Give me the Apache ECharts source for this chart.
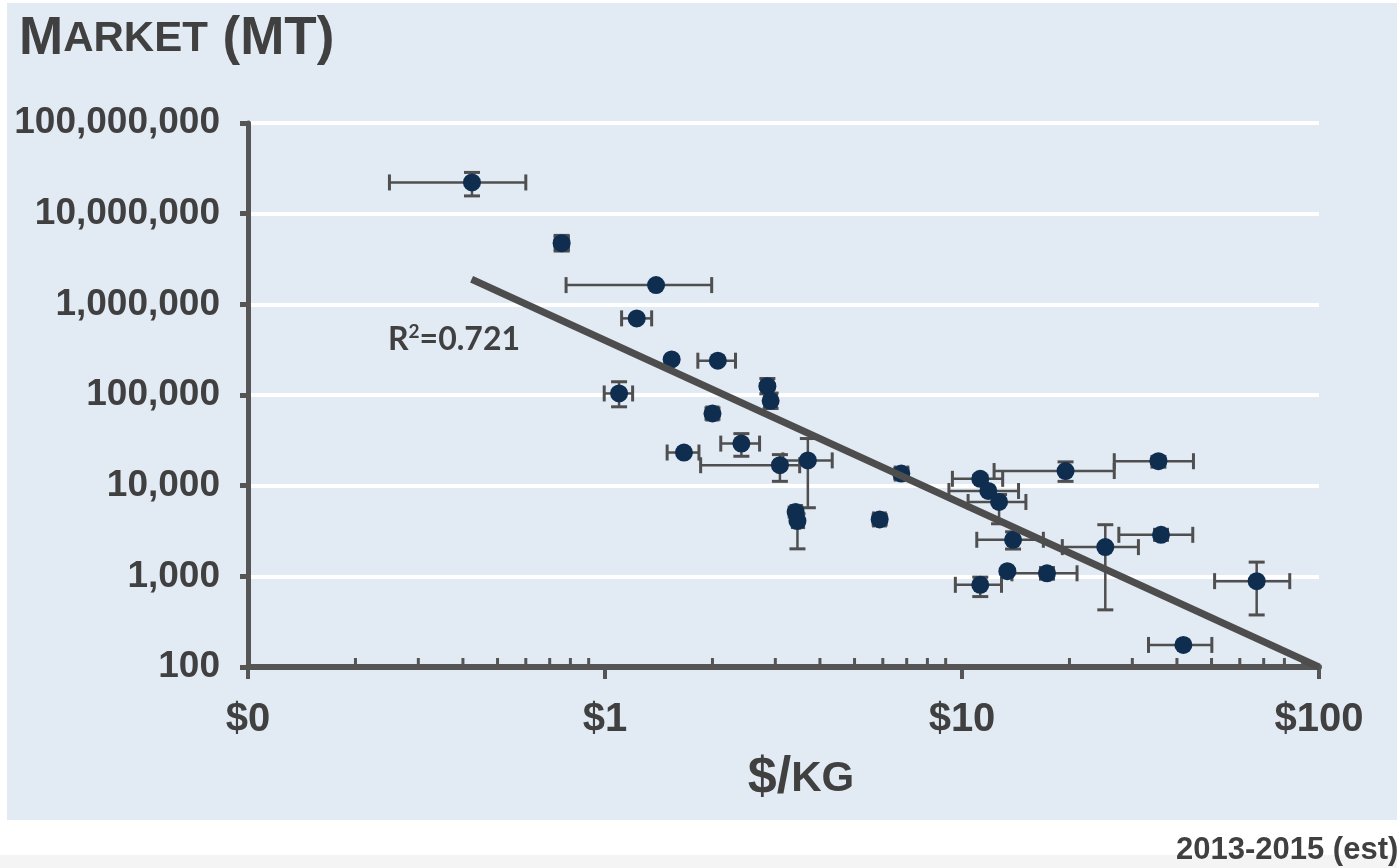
<!DOCTYPE html>
<html>
<head>
<meta charset="utf-8">
<script src="https://cdn.jsdelivr.net/npm/echarts@6/dist/echarts.min.js"></script>
<style>
  html, body { margin: 0; padding: 0; background: #fff; }
  #chart { width: 1397px; height: 868px; }
</style>
</head>
<body>
<div id="chart"></div>
<script>
// price ($/kg) per product, with low/high range
const priceUSD  = [0.424, 0.756, 1.39, 1.227, 1.537, 2.07, 1.095, 2.85, 2.91, 2.00, 2.41, 1.664, 3.09, 3.70, 3.42, 3.46, 5.88, 6.76, 11.25, 11.85, 12.7, 19.5, 35.5, 13.9, 25.2, 36.1, 13.4, 17.3, 11.25, 66.9, 41.7];
const priceLow  = [0.249, 0.725, 0.778, 1.113, 1.537, 1.82, 0.995, 2.75, 2.80, 1.93, 2.11, 1.493, 1.853, 3.15, 3.32, 3.35, 5.65, 6.50, 9.40, 9.19, 10.4, 12.3, 26.7, 11.0, 19.1, 27.5, 13.4, 13.8, 9.58, 51.0, 33.3];
const priceHigh = [0.600, 0.790, 1.99, 1.351, 1.537, 2.32, 1.195, 2.95, 3.02, 2.07, 2.71, 1.833, 3.51, 4.33, 3.55, 3.60, 6.10, 7.05, 13.0, 14.4, 15.1, 26.7, 44.5, 16.9, 31.2, 44.3, 13.4, 21.0, 12.9, 82.8, 50.1];
// market size (metric tonnes), with low/high range
const marketMT   = [2.21e7, 4.72e6, 1.63e6, 7.0e5, 2.47e5, 2.39e5, 1.04e5, 1.25e5, 8.63e4, 6.25e4, 2.91e4, 2.32e4, 1.68e4, 1.90e4, 5120, 4070, 4240, 13600, 11900, 8740, 6610, 14500, 18600, 2530, 2100, 2870, 1140, 1080, 806, 885, 175];
const marketLow  = [1.57e7, 3.87e6, 1.63e6, 7.0e5, 2.47e5, 2.39e5, 7.41e4, 1.03e5, 7.1e4, 5.4e4, 2.11e4, 2.32e4, 1.116e4, 5710, 4500, 2010, 3700, 12000, 11000, 8740, 3800, 11150, 16000, 2000, 427, 2500, 1140, 930, 598, 375, 175];
const marketHigh = [2.85e7, 5.76e6, 1.63e6, 7.0e5, 2.47e5, 2.39e5, 1.40e5, 1.52e5, 1.05e5, 7.2e4, 3.75e4, 2.32e4, 2.20e4, 3.31e4, 5800, 4900, 4800, 15500, 13000, 8740, 8000, 18300, 21000, 3100, 3710, 3300, 1140, 1250, 980, 1435, 175];
// fitted power-law trend endpoints
const trendPrice  = [0.423, 100];
const trendMarket = [1.89e6, 100];
// log minor ticks on the price axis
const minorTickValues = [0.2, 0.3, 0.4, 0.5, 0.6, 0.7, 0.8, 0.9, 2, 3, 4, 5, 6, 7, 8, 9, 20, 30, 40, 50, 60, 70, 80, 90];
const xTickLabels = { 0.1: '$0', 1: '$1', 10: '$10', 100: '$100' };

const FONT = '"Liberation Sans", Arial, sans-serif';
const TEXT = '#404040';
const AXIS = '#555555';

const chart = echarts.init(document.getElementById('chart'));

const errorData = priceUSD.map((p, i) => [p, marketMT[i], priceLow[i], priceHigh[i], marketLow[i], marketHigh[i]]);

// draw x/y error bars with caps
const renderErrorBar = (params, api) => {
    const c = api.coord([api.value(0), api.value(1)]);
    const xl = api.coord([api.value(2), api.value(1)])[0];
    const xh = api.coord([api.value(3), api.value(1)])[0];
    const yl = api.coord([api.value(0), api.value(4)])[1];
    const yh = api.coord([api.value(0), api.value(5)])[1];
    const bar = { stroke: '#4f4f4f', lineWidth: 2.5 };
    const cap = { stroke: '#4f4f4f', lineWidth: 3 };
    const k = 8;
    const children = [];
    if (xh - xl > 2) {
        children.push({ type: 'line', shape: { x1: xl, y1: c[1], x2: xh, y2: c[1] }, style: bar });
        children.push({ type: 'line', shape: { x1: xl, y1: c[1] - k, x2: xl, y2: c[1] + k }, style: cap });
        children.push({ type: 'line', shape: { x1: xh, y1: c[1] - k, x2: xh, y2: c[1] + k }, style: cap });
    }
    if (yl - yh > 2) {
        children.push({ type: 'line', shape: { x1: c[0], y1: yl, x2: c[0], y2: yh }, style: bar });
        children.push({ type: 'line', shape: { x1: c[0] - k, y1: yl, x2: c[0] + k, y2: yl }, style: cap });
        children.push({ type: 'line', shape: { x1: c[0] - k, y1: yh, x2: c[0] + k, y2: yh }, style: cap });
    }
    return { type: 'group', children };
};

// short minor ticks pointing up from the x axis
const renderMinorTick = (params, api) => {
    const p = api.coord([api.value(0), api.value(1)]);
    return {
        type: 'line',
        shape: { x1: p[0], y1: p[1] - 2, x2: p[0], y2: p[1] - 9 },
        style: { stroke: AXIS, lineWidth: 3 }
    };
};

const option = {
    backgroundColor: '#ffffff',
    animation: false,
    graphic: [
        { type: 'rect', z: -100, shape: { x: 7, y: 3, width: 1390, height: 817 }, style: { fill: '#e2eaf4' } },
        { type: 'rect', z: -100, shape: { x: 0, y: 855, width: 1397, height: 13 }, style: { fill: '#f4f4f4' } },
        {
            type: 'text', left: 19, top: 13,
            style: {
                text: '{b|M}{s|ARKET}{b| (MT)}',
                rich: {
                    b: { fontSize: 53, fontWeight: 'bold', fontFamily: FONT, fill: TEXT },
                    s: { fontSize: 42, fontWeight: 'bold', fontFamily: FONT, fill: TEXT }
                }
            }
        },
        {
            type: 'text', x: 388, y: 322,
            style: {
                text: '{r|R}{s|2}{r|=0.721}',
                rich: {
                    r: { fontSize: 32, fontWeight: 'bold', fontFamily: 'Lato, "Open Sans", sans-serif', fill: TEXT, lineHeight: 36 },
                    s: { fontSize: 19, fontWeight: 'bold', fontFamily: 'Lato, "Open Sans", sans-serif', fill: TEXT, lineHeight: 36, verticalAlign: 'top' }
                }
            }
        },
        {
            type: 'text', x: 801, y: 753,
            style: {
                text: '{b|$/}{s|KG}',
                align: 'center',
                rich: {
                    b: { fontSize: 52, fontWeight: 'bold', fontFamily: FONT, fill: TEXT },
                    s: { fontSize: 42, fontWeight: 'bold', fontFamily: FONT, fill: TEXT }
                }
            }
        },
        {
            type: 'text', x: 1176, y: 835,
            style: { text: '2013-2015 (est)', fontSize: 31, fontWeight: 'bold', fontFamily: FONT, fill: TEXT }
        }
    ],
    grid: {
        left: 248,
        right: 78,
        top: 123,
        bottom: 201,
        containLabel: false,
        outerBoundsMode: 'none'
    },
    xAxis: {
        type: 'log',
        logBase: 10,
        min: 0.1,
        max: 100,
        axisLine: { show: true, onZero: false, lineStyle: { color: AXIS, width: 6 } },
        axisTick: { show: true, length: 12, lineStyle: { color: AXIS, width: 4 } },
        splitLine: { show: false },
        minorTick: { show: false },
        axisLabel: {
            margin: 33,
            fontSize: 40,
            fontWeight: 'bold',
            fontFamily: FONT,
            color: TEXT,
            formatter: (v) => xTickLabels[v] || ('$' + v)
        }
    },
    yAxis: {
        type: 'log',
        logBase: 10,
        min: 100,
        max: 100000000,
        axisLine: { show: true, onZero: false, lineStyle: { color: AXIS, width: 5 } },
        axisTick: { show: true, length: 8, lineStyle: { color: AXIS, width: 5 } },
        splitLine: { show: true, lineStyle: { color: '#ffffff', width: 4 } },
        axisLabel: {
            margin: 28,
            fontSize: 37,
            fontWeight: 'bold',
            fontFamily: FONT,
            color: TEXT,
            formatter: (v) => Math.round(v).toString().replace(/\B(?=(\d{3})+(?!\d))/g, ',')
        }
    },
    series: [
        {
            name: 'minor ticks',
            type: 'custom',
            renderItem: renderMinorTick,
            data: minorTickValues.map(v => [v, 100]),
            clip: false,
            z: 3,
            silent: true
        },
        {
            name: 'error bars',
            type: 'custom',
            renderItem: renderErrorBar,
            data: errorData,
            encode: { x: 0, y: 1 },
            clip: false,
            z: 3,
            silent: true
        },
        {
            name: 'products',
            type: 'scatter',
            data: priceUSD.map((p, i) => [p, marketMT[i]]),
            symbol: 'circle',
            symbolSize: 18,
            itemStyle: { color: '#0f2d4f', opacity: 1 },
            z: 4
        },
        {
            name: 'trend',
            type: 'line',
            data: trendPrice.map((p, i) => [p, trendMarket[i]]),
            showSymbol: false,
            symbol: 'none',
            lineStyle: { color: '#4d4d4d', width: 7 },
            z: 5,
            silent: true
        }
    ]
};

chart.setOption(option);
</script>
</body>
</html>
